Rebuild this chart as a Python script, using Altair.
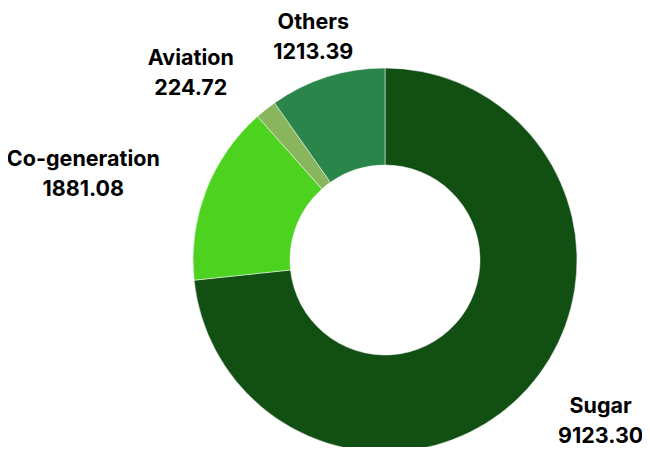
import math
import altair as alt
import pandas as pd

categories = ["Sugar", "Co-generation", "Aviation", "Others"]
values = [9123.30, 1881.08, 224.72, 1213.39]
value_labels = ["9123.30", "1881.08", "224.72", "1213.39"]
colors = ["#114F12", "#4CD21F", "#89B65C", "#2A854A"]

df = pd.DataFrame({
    "category": categories,
    "value": values,
    "label": value_labels,
    "order": list(range(len(categories))),
})

CX, CY = 377, 252  # donut centre inside the view

base = alt.Chart(df)

arc = base.mark_arc(outerRadius=192, innerRadius=95, stroke="white", strokeWidth=0.5).encode(
    theta=alt.Theta("value:Q", stack=True),
    order=alt.Order("order:Q"),
    color=alt.Color("category:N", scale=alt.Scale(domain=categories, range=colors), legend=None),
    x=alt.value(CX),
    y=alt.value(CY),
)

# label placement (radius, dx, dy) -- style only
label_style = {
    "Sugar": (272.6, 13, -35),
    "Co-generation": (312.8, -10, 13),
    "Aviation": (269.5, -27, 10),
    "Others": (237.7, 0, -10),
}

layers = [arc]
for cat, (r, dx, dy) in label_style.items():
    t = (
        base.transform_joinaggregate(total="sum(value)")
        .transform_window(cum="sum(value)", sort=[alt.SortField("order")], frame=[None, 0])
        .transform_calculate(
            angle="(datum.cum - datum.value / 2) / datum.total * 2 * PI",
            txt="datum.category + '\\n' + datum.label",
        )
        .transform_filter(alt.datum.category == cat)
        .mark_text(
            radius=r, dx=dx, dy=dy, font="Inter", fontWeight="bold", fontSize=21.5,
            lineHeight=30, lineBreak="\n", align="center", baseline="middle", color="black",
        )
        .encode(
            theta=alt.Theta("angle:Q", scale=None),
            text=alt.Text("txt:N"),
            x=alt.value(CX),
            y=alt.value(CY),
        )
    )
    layers.append(t)

chart = alt.layer(*layers).properties(
    width=634, height=439,
    autosize=alt.AutoSizeParams(type="none"),
    padding=0,
).configure_view(stroke=None)

chart.save("out.html", embed_options={"renderer": "svg", "actions": False})
